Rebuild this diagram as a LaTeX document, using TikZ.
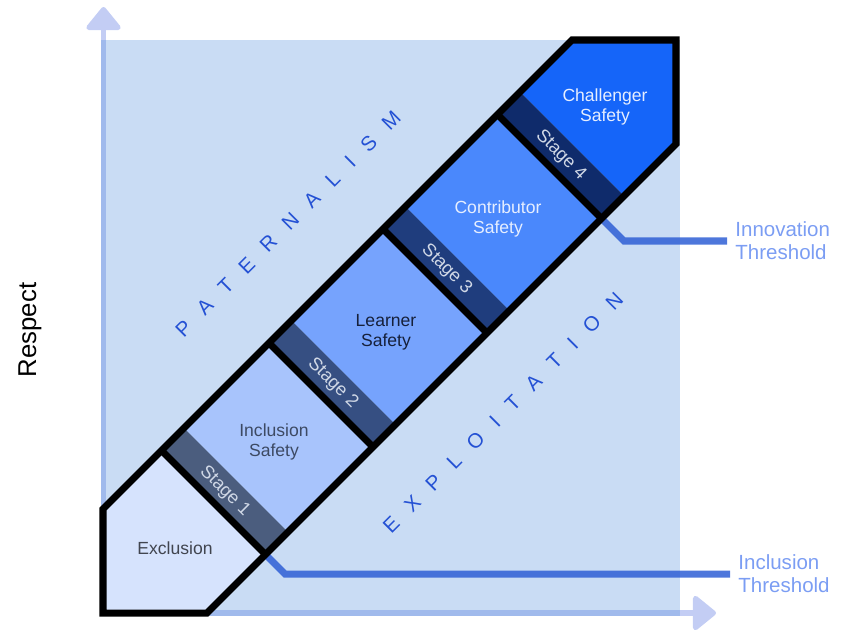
\documentclass[tikz,border=0pt]{standalone}
\usepackage{fontspec}
\setmainfont{Liberation Sans}
\usepackage{xcolor}
\usepackage{tikz}
\usetikzlibrary{arrows.meta}

\definecolor{axisblue}{HTML}{C3CDF4}
\definecolor{bgblue}{HTML}{5A95DE}
\definecolor{exclfill}{HTML}{D6E3FD}
\definecolor{inclfill}{HTML}{A8C4FC}
\definecolor{learnfill}{HTML}{76A3FD}
\definecolor{contribfill}{HTML}{4A88FC}
\definecolor{challfill}{HTML}{1565F9}
\definecolor{stageA}{HTML}{4B5D7E}
\definecolor{stageB}{HTML}{364F82}
\definecolor{stageC}{HTML}{1F3D7D}
\definecolor{stageD}{HTML}{0F2B6B}
\definecolor{excltext}{HTML}{41454F}
\definecolor{incltext}{HTML}{3D4A63}
\definecolor{learntext}{HTML}{16203A}
\definecolor{lighttext}{HTML}{E6EEFF}
\definecolor{stagetext}{HTML}{D0D8E6}
\definecolor{zoneblue}{HTML}{2451D4}
\definecolor{threshblue}{HTML}{2F5FD5}
\definecolor{threshtext}{HTML}{7B9DF3}

\newcommand{\lgap}{\hspace{0.8em}}

\begin{document}
\begin{tikzpicture}[
  x=0.03cm, y=-0.03cm,
  axis/.style={line width=4.3pt, draw=axisblue, fill=axisblue,
               -{Triangle[width=33pt, length=21pt, round]}},
  outline/.style={line width=6pt, draw=black},
  safety/.style={align=center, font=\fontsize{15}{17}\selectfont},
  stagelbl/.style={rotate=-45, text=stagetext, font=\fontsize{15.5}{17}\selectfont},
  zone/.style={rotate=45, text=zoneblue, font=\fontsize{17.5}{19}\selectfont},
  threshold/.style={line width=6pt, draw=threshblue, draw opacity=0.85},
  threshlbl/.style={anchor=west, align=left, inner sep=7pt, text=threshtext,
                    font=\fontsize{17.5}{19.5}\selectfont}
]
\useasboundingbox (0,0) rectangle (848,631);

% --- axes ---
\coordinate (yfoot) at (103.5,616);
\coordinate (ytip)  at (103.5,7);
\coordinate (xfoot) at (101,613);
\coordinate (xtip)  at (716,613);
\draw[axis] (yfoot) -- (ytip);
\draw[axis] (xfoot) -- (xtip);

% --- field ---
\fill[bgblue, fill opacity=0.33] (101,40) rectangle (680,616);

\node[rotate=90, font=\fontsize{22}{24}\selectfont] (respect) at (30,330) {Respect};

% --- divider and band corners ---
\foreach \n/\u in {1/-289, 2/-74, 3/154, 4/383} {
  \coordinate (dt\n) at ({(\u+612)/2},{(612-\u)/2});
  \coordinate (db\n) at ({(\u+820)/2},{(820-\u)/2});
  \coordinate (bt\n) at ({(\u+657)/2},{(567-\u)/2});
  \coordinate (bb\n) at ({(\u+865)/2},{(775-\u)/2});
}

% --- thresholds ---
\node[threshlbl] (incllbl) at (730,574) {Inclusion\\Threshold};
\node[threshlbl] (innolbl) at (727,241) {Innovation\\Threshold};
\draw[threshold] (db1) -- (285,574) -- (incllbl.west);
\draw[threshold] (db4) -- (624,241) -- (innolbl.west);

% --- stages ---
\fill[exclfill] (103,509) -- (103,613) -- (207,613) -- (db1) -- (dt1) -- cycle;
\fill[inclfill] (bt1) -- (bb1) -- (db2) -- (dt2) -- cycle;
\fill[learnfill] (bt2) -- (bb2) -- (db3) -- (dt3) -- cycle;
\fill[contribfill] (bt3) -- (bb3) -- (db4) -- (dt4) -- cycle;
\fill[challfill] (bt4) -- (bb4) -- (676,144) -- (676,40) -- (572,40) -- cycle;
\foreach \n/\c in {1/stageA, 2/stageB, 3/stageC, 4/stageD}
  \fill[\c] (dt\n) -- (db\n) -- (bb\n) -- (bt\n) -- cycle;

\draw[outline] (103,509) -- (103,613) -- (207,613) -- (676,144)
  -- (676,40) -- (572,40) -- cycle;
\foreach \n in {1,...,4} \draw[outline] (dt\n) -- (db\n);

% --- labels ---
\node[safety, text=excltext] (excl) at (175,548) {Exclusion};
\node[safety, text=incltext] (incl) at (274,442) {Inclusion\\Safety};
\node[safety, text=learntext] (learn) at (386,332) {Learner\\Safety};
\node[safety, text=lighttext] (contrib) at (498,219) {Contributor\\Safety};
\node[safety, text=lighttext] (chall) at (605,107) {Challenger\\Safety};

\node[stagelbl] (st1) at (224.75,491.25) {Stage 1};
\node[stagelbl] (st2) at (332.75,383.25) {Stage 2};
\node[stagelbl] (st3) at (446.5,269.5) {Stage 3};
\node[stagelbl] (st4) at (560.75,155.25) {Stage 4};

\node[zone] (pat) at (288,224)
  {P\lgap A\lgap T\lgap E\lgap R\lgap N\lgap A\lgap L\lgap I\lgap S\lgap M};
\node[zone] (expl) at (503,413)
  {E\lgap X\lgap P\lgap L\lgap O\lgap I\lgap T\lgap A\lgap T\lgap I\lgap O\lgap N};
\end{tikzpicture}
\end{document}
